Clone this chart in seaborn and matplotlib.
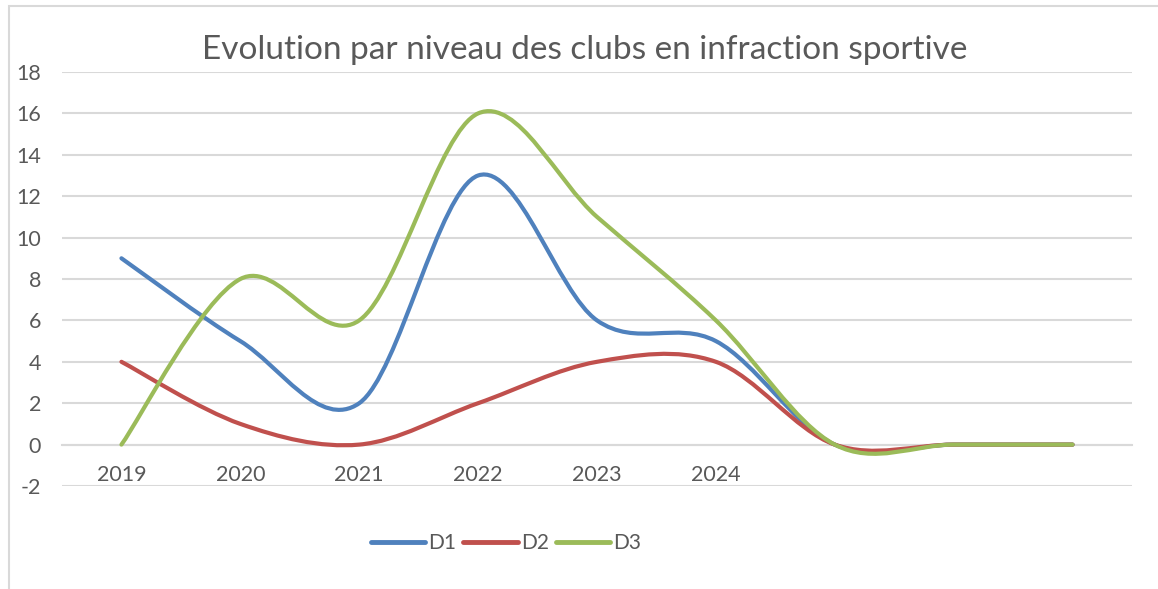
import numpy as np
import pandas as pd
import matplotlib
matplotlib.use('Agg')
import matplotlib.pyplot as plt
import seaborn as sns
from matplotlib.path import Path
from matplotlib.patches import PathPatch, Rectangle
from matplotlib.lines import Line2D

# donnees
categories = ['2019', '2020', '2021', '2022', '2023', '2024', '', '', '']
d1 = [9, 5, 2, 13, 6, 5, 0, 0, 0]
d2 = [4, 1, 0, 2, 4, 4, 0, 0, 0]
d3 = [0, 8, 6, 16, 11, 6, 0, 0, 0]
series = ['D1', 'D2', 'D3']
colors = ['#4F81BD', '#C0504D', '#9BBB59']
title = 'Evolution par niveau des clubs en infraction sportive'

W, H = 1158, 589
GRID = '#D9D9D9'
TXT = '#595959'


def smooth_path(xs, ys):
    # courbe lissee facon Excel (Bezier de type Catmull-Rom)
    pts = np.column_stack([xs, ys]).astype(float)
    n = len(pts)
    verts = [pts[0]]
    codes = [Path.MOVETO]
    for i in range(n - 1):
        p0 = pts[max(i - 1, 0)]
        p1 = pts[i]
        p2 = pts[i + 1]
        p3 = pts[min(i + 2, n - 1)]
        verts += [p1 + (p2 - p0) / 6, p2 - (p3 - p1) / 6, p2]
        codes += [Path.CURVE4] * 3
    return Path(verts, codes)


sns.set_style('white')
plt.rcParams['font.family'] = ['Lato', 'DejaVu Sans']
plt.rcParams['axes.unicode_minus'] = False

fig = plt.figure(figsize=(W / 100, H / 100), dpi=100)
ax = fig.add_axes([62 / W, 1 - 486 / H, (1132 - 62) / W, (486 - 72) / H])

n = len(categories)
df = pd.DataFrame({
    'pos': np.tile(np.arange(n), 3),
    'valeur': d1 + d2 + d3,
    'niveau': np.repeat(series, n),
})
sns.lineplot(data=df, x='pos', y='valeur', hue='niveau', hue_order=series,
             palette=colors, ax=ax, legend=False)

# on remplace les segments droits par des courbes lissees
for k, line in enumerate(list(ax.lines)):
    xs, ys = line.get_data()
    ax.add_patch(PathPatch(smooth_path(xs, ys), facecolor='none',
                           edgecolor=line.get_color(), lw=3.0,
                           capstyle='round', joinstyle='round', zorder=3 + k))
    line.set_visible(False)

ax.set_xlim(-0.5, n - 0.5)
ax.set_ylim(-2, 18)
ax.set_yticks(np.arange(-2, 19, 2))
ax.yaxis.grid(True, color=GRID, lw=1.5)
ax.set_axisbelow(True)
ax.tick_params(axis='y', length=0, pad=15, labelsize=15.5, labelcolor=TXT)

ax.set_xticks(np.arange(n))
ax.set_xticklabels(categories)
ax.set_xticks(np.arange(n + 1) - 0.5, minor=True)
ax.tick_params(axis='x', which='major', length=0, pad=15, labelsize=15.5, labelcolor=TXT)
ax.tick_params(axis='x', which='minor', length=6, width=1.5, color=GRID, direction='out')
ax.set_xlabel('')
ax.set_ylabel('')

for s in ['left', 'right', 'top']:
    ax.spines[s].set_visible(False)
ax.spines['bottom'].set_position(('data', 0))
ax.spines['bottom'].set_color(GRID)
ax.spines['bottom'].set_linewidth(1.5)

fig.text(585 / W, 1 - 50 / H, title, ha='center', va='center',
         fontsize=24, color=TXT)

handles = [Line2D([], [], color=c, lw=3.5, solid_capstyle='round') for c in colors]
fig.legend(handles, series, loc='center', bbox_to_anchor=(506 / W, 1 - 543 / H),
           ncol=3, frameon=False, fontsize=15, handlelength=2.6,
           handletextpad=0.15, columnspacing=0.35, labelcolor=TXT)

# cadre du graphique
fig.patches.append(Rectangle((9 / W, -0.1), 1.2, 1 - 6 / H + 0.1,
                             transform=fig.transFigure, fill=False,
                             edgecolor=GRID, lw=1.5))

fig.savefig('out.png', dpi=100)
